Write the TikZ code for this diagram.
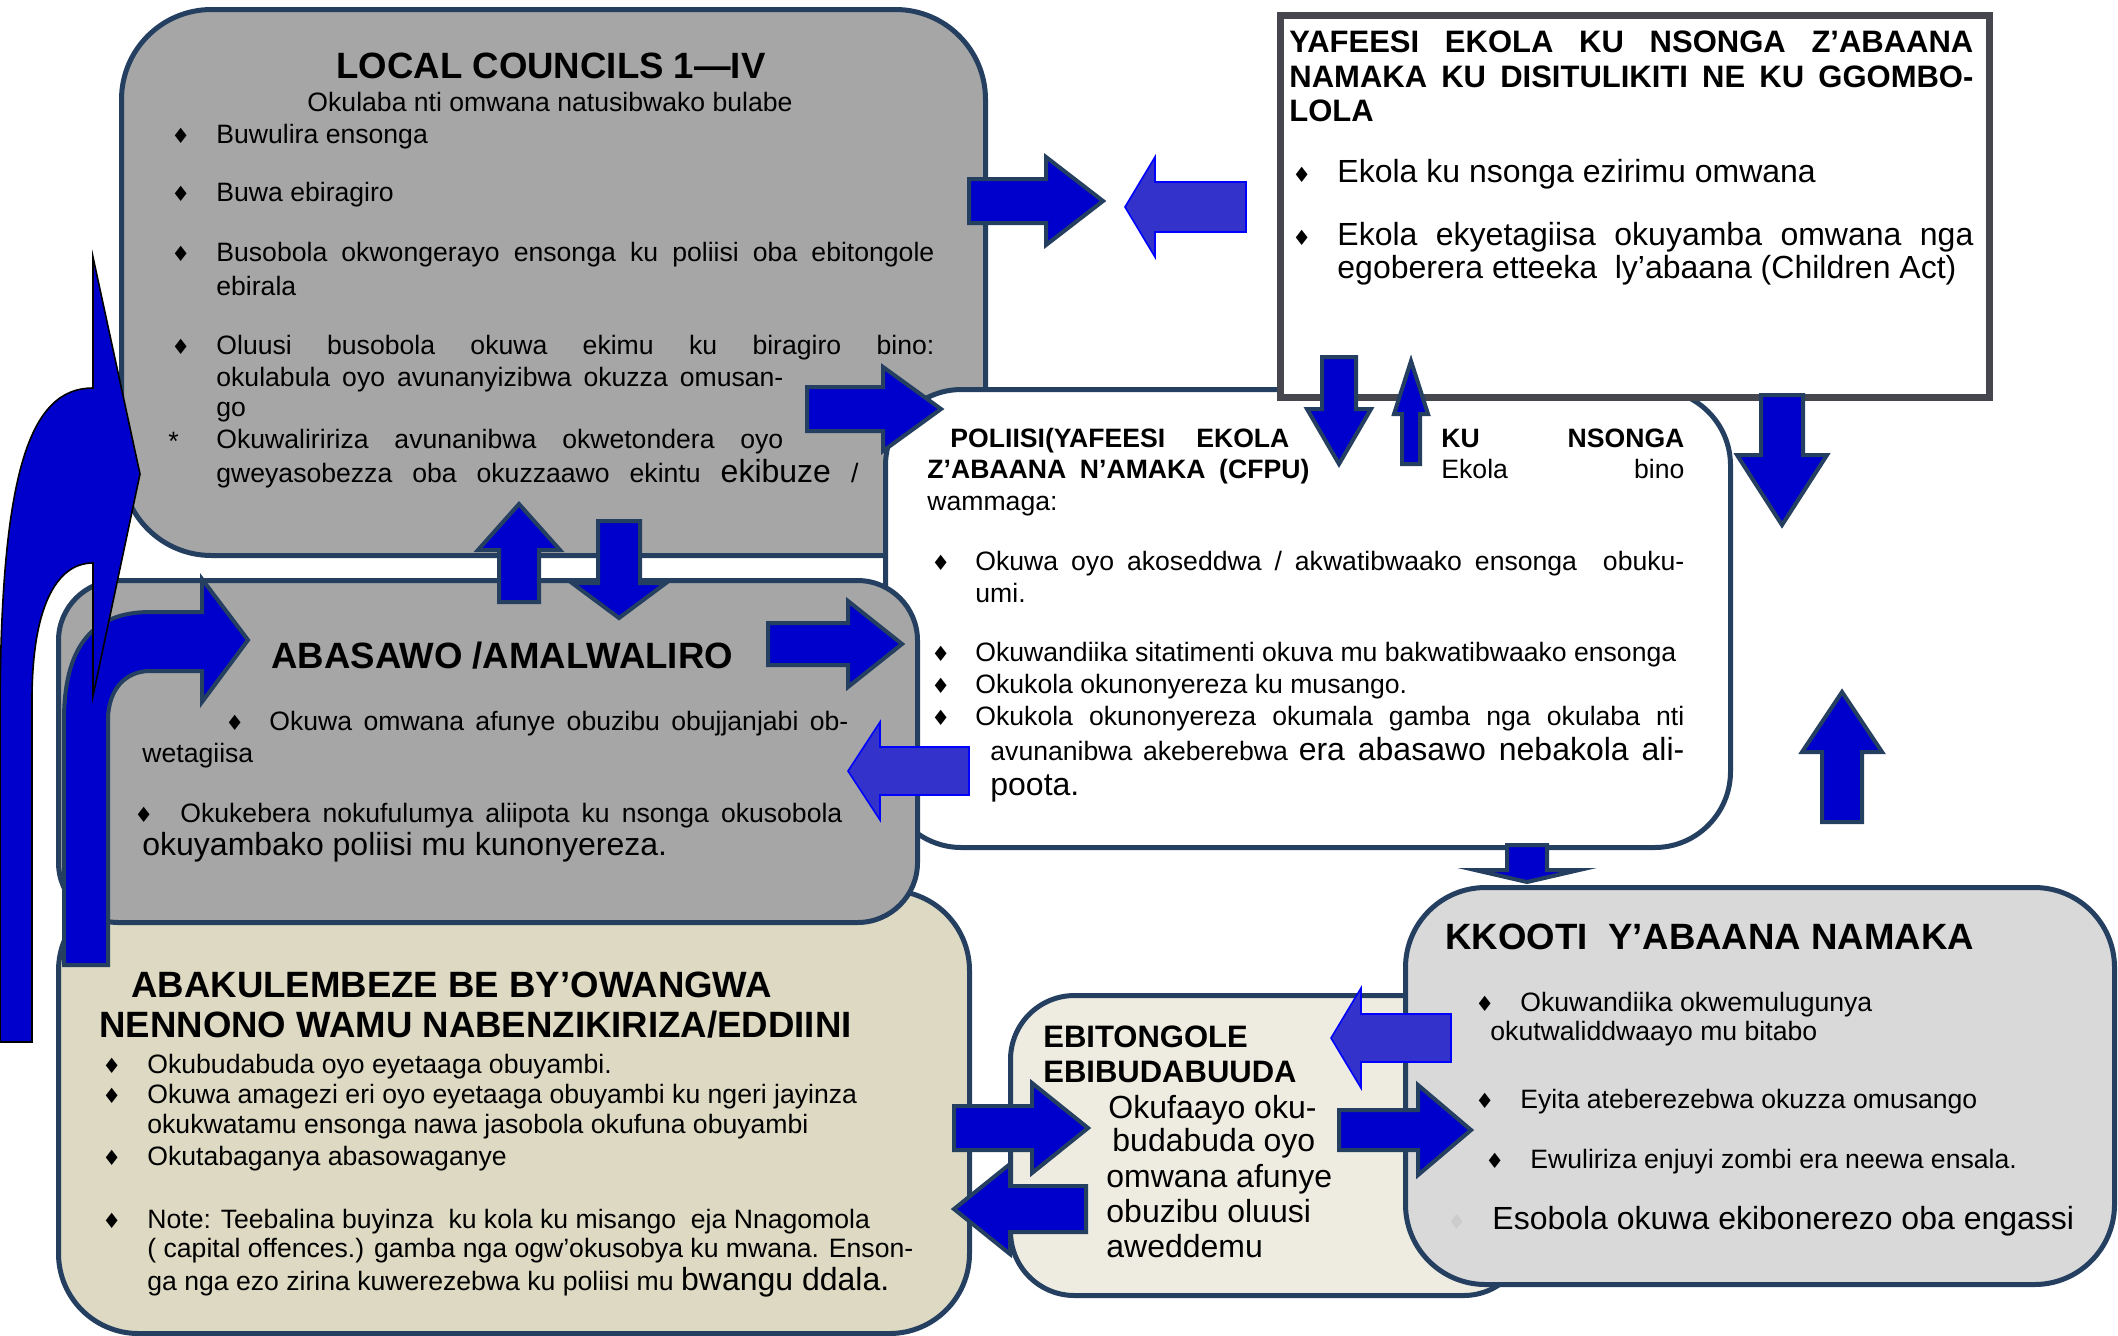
\documentclass[tikz,border=0pt]{standalone}
\usepackage{fontspec}
\setmainfont{Liberation Sans}
\newfontfamily\dvsym{DejaVu Sans}
\definecolor{bord}{HTML}{243F60}
\definecolor{lcgray}{HTML}{A6A6A6}
\definecolor{yafgray}{HTML}{46464F}
\definecolor{beige}{HTML}{DDD9C3}
\definecolor{ebfill}{HTML}{EEECE1}
\definecolor{kkgray}{HTML}{D9D9D9}
\definecolor{arrblue}{HTML}{0000CC}
\definecolor{arrlight}{HTML}{3333CC}
\newcommand\fsB{\fontsize{13.3}{16}\selectfont}
\newcommand\fsL{\fontsize{16}{19}\selectfont}
\newcommand\fsT{\fontsize{18.3}{22}\selectfont\bfseries}
\newcommand\fsH{\fontsize{15.5}{18}\selectfont\bfseries}
\newcommand\fsY{\fontsize{16}{19}\selectfont}
\newcommand\jb[2]{\makebox[#1pt][s]{#2}}
\newcommand\harr[6]{(#1,#4-#5) -- (#2,#4-#5) -- (#2,#4-#6) -- (#3,#4) -- (#2,#4+#6) -- (#2,#4+#5) -- (#1,#4+#5) -- cycle}
\newcommand\varr[6]{(#4-#5,#1) -- (#4-#5,#2) -- (#4-#6,#2) -- (#4,#3) -- (#4+#6,#2) -- (#4+#5,#2) -- (#4+#5,#1) -- cycle}
\begin{document}
\begin{tikzpicture}[x=0.5pt,y=-0.5pt,
  box/.style={draw=bord, line width=2.5pt, anchor=north west, inner sep=0pt},
  txt/.style={anchor=base west, inner sep=0pt, font=\fsB},
  bul/.style={anchor=base west, inner sep=0pt, xshift=-3pt, font=\dvsym\fontsize{10.5}{10.5}\selectfont},
  arrD/.style={fill=arrblue, draw=bord, line width=2pt, line join=miter},
  arrL/.style={fill=arrlight, draw=blue, line width=0.8pt, line join=miter}]
\useasboundingbox (0,0) rectangle (2118,1335);

% ---------------- boxes ----------------
\node[box, fill=lcgray, rounded corners=45pt, minimum width=432pt, minimum height=273pt] (lc) at (119,7) {};
\node[box, fill=white, rounded corners=38pt, minimum width=422.5pt, minimum height=229pt] (pol) at (883,387) {};
\node[box, fill=white, draw=yafgray, line width=3.5pt, minimum width=354.5pt, minimum height=191pt] (yaf) at (1277,12) {};
\node[box, fill=beige, rounded corners=40pt, minimum width=455.5pt, minimum height=221.5pt] (abk) at (56,888) {};
\node[box, fill=lcgray, rounded corners=30pt, minimum width=429.5pt, minimum height=171pt] (abs) at (56,578) {};
\node[box, fill=ebfill, rounded corners=32pt, minimum width=258.5pt, minimum height=150pt] (ebi) at (1008,993) {};
\node[box, fill=kkgray, rounded corners=40pt, minimum width=354.5pt, minimum height=198.5pt] (kko) at (1403,885) {};

% ---------------- LOCAL COUNCILS text ----------------
\node[txt, anchor=base, font=\fsT] (lct) at (551,78) {LOCAL COUNCILS 1—IV};
\node[txt, anchor=base] (lcs) at (550,111) {Okulaba nti omwana natusibwako bulabe};
\node[bul] (lcb1) at (177,143) {♦};
\node[txt] (lc1) at (216,143) {Buwulira ensonga};
\node[bul] (lcb2) at (177,201) {♦};
\node[txt] (lc2) at (216,201) {Buwa ebiragiro};
\node[bul] (lcb3) at (177,261) {♦};
\node[txt] (lc3) at (216,261) {\jb{359}{Busobola okwongerayo ensonga ku poliisi oba ebitongole}};
\node[txt] (lc4) at (216,295) {ebirala};
\node[bul] (lcb4) at (177,354) {♦};
\node[txt] (lc5) at (216,354) {\jb{359}{Oluusi busobola okuwa ekimu ku biragiro bino:}};
\node[txt] (lc6) at (216,386) {\jb{283.5}{okulabula oyo avunanyizibwa okuzza omusan-}};
\node[txt] (lc7) at (216,416) {go};
\node[txt] (lcast) at (168,450) {*};
\node[txt] (lc8) at (216,448) {\jb{283.5}{Okuwaliririza avunanibwa okwetondera oyo}};
\node[txt] (lc9) at (216,482) {\jb{321}{gweyasobezza oba okuzzaawo ekintu {\fsL ekibuze} /}};

% ---------------- YAFEESI text ----------------
\node[txt, font=\fsH] (yt1) at (1289,52) {\jb{342}{YAFEESI EKOLA KU NSONGA Z’ABAANA}};
\node[txt, font=\fsH] (yt2) at (1289,87) {\jb{342}{NAMAKA KU DISITULIKITI NE KU GGOMBO-}};
\node[txt, font=\fsH] (yt3) at (1289,121) {LOLA};
\node[bul] (yb1) at (1298,182) {♦};
\node[txt, font=\fsY] (y1) at (1337,182) {Ekola ku nsonga ezirimu omwana};
\node[bul] (yb2) at (1298,245) {♦};
\node[txt, font=\fsY] (y2) at (1337,245) {\jb{318}{Ekola ekyetagiisa okuyamba omwana nga}};
\node[txt, font=\fsY] (y3) at (1337,278) {egoberera etteeka \ ly’abaana (Children Act)};

% ---------------- POLIISI text ----------------
\node[txt, font=\fsB\bfseries] (pt1) at (950,447) {\jb{169.5}{POLIISI(YAFEESI EKOLA}};
\node[txt, font=\fsB\bfseries] (pt2) at (1441,447) {\jb{121.5}{KU NSONGA}};
\node[txt, font=\fsB\bfseries] (pt3) at (927,478) {\jb{191}{Z’ABAANA N’AMAKA (CFPU)}};
\node[txt] (pt4) at (1441,478) {\jb{121.5}{Ekola bino}};
\node[txt] (pt5) at (927,510) {wammaga:};
\node[bul] (pb1) at (937,570) {♦};
\node[txt] (p1) at (975,570) {\jb{354.5}{Okuwa oyo akoseddwa / akwatibwaako ensonga \ obuku-}};
\node[txt] (p2) at (975,602) {umi.};
\node[bul] (pb2) at (937,661) {♦};
\node[txt] (p3) at (975,661) {Okuwandiika sitatimenti okuva mu bakwatibwaako ensonga};
\node[bul] (pb3) at (937,693) {♦};
\node[txt] (p4) at (975,693) {Okukola okunonyereza ku musango.};
\node[bul] (pb4) at (937,725) {♦};
\node[txt] (p5) at (975,725) {\jb{354.5}{Okukola okunonyereza okumala gamba nga okulaba nti}};
\node[txt] (p6) at (990,760) {\jb{347}{avunanibwa akeberebwa {\fsL era abasawo nebakola ali-}}};
\node[txt, font=\fsL] (p7) at (990,795) {poota.};

% ---------------- ABASAWO text ----------------
\node[txt, font=\fsT] (at) at (271,668) {ABASAWO /AMALWALIRO};
\node[bul] (ab1) at (231,730) {♦};
\node[txt] (a1) at (269,730) {\jb{289.5}{Okuwa omwana afunye obuzibu obujjanjabi ob-}};
\node[txt] (a2) at (142,762) {wetagiisa};
\node[bul] (ab2) at (140,822) {♦};
\node[txt] (a3) at (180,822) {\jb{331}{Okukebera nokufulumya aliipota ku nsonga okusobola}};
\node[txt, font=\fsL] (a4) at (142,855) {okuyambako poliisi mu kunonyereza.};

% ---------------- ABAKULEMBEZE text ----------------
\node[txt, font=\fsT] (kt1) at (131,997) {ABAKULEMBEZE BE BY’OWANGWA};
\node[txt, font=\fsT] (kt2) at (99,1037) {NENNONO WAMU NABENZIKIRIZA/EDDIINI};
\node[bul] (kb1) at (108,1073) {♦};
\node[txt] (k1) at (147,1073) {Okubudabuda oyo eyetaaga obuyambi.};
\node[bul] (kb2) at (108,1103) {♦};
\node[txt] (k2) at (147,1103) {Okuwa amagezi eri oyo eyetaaga obuyambi ku ngeri jayinza};
\node[txt] (k3) at (147,1133) {okukwatamu ensonga nawa jasobola okufuna obuyambi};
\node[bul] (kb3) at (108,1165) {♦};
\node[txt] (k4) at (147,1165) {Okutabaganya abasowaganye};
\node[bul] (kb4) at (108,1228) {♦};
\node[txt] (k5) at (147,1228) {Note: Teebalina buyinza \ ku kola ku misango \ eja Nnagomola};
\node[txt] (k6) at (147,1257) {( capital offences.) gamba nga ogw’okusobya ku mwana. Enson-};
\node[txt] (k7) at (147,1290) {ga nga ezo zirina kuwerezebwa ku poliisi mu {\fsL bwangu ddala.}};

% ---------------- EBITONGOLE text ----------------
\node[txt, font=\fsH] (et1) at (1043,1047) {EBITONGOLE};
\node[txt, font=\fsH] (et2) at (1043,1082) {EBIBUDABUUDA};
\node[txt, font=\fsL] (e1) at (1108,1118) {Okufaayo oku-};
\node[txt, font=\fsL] (e2) at (1112,1151) {budabuda oyo};
\node[txt, font=\fsL] (e3) at (1106,1187) {omwana afunye};
\node[txt, font=\fsL] (e4) at (1106,1222) {obuzibu oluusi};
\node[txt, font=\fsL] (e5) at (1106,1257) {aweddemu};

% ---------------- KKOOTI text ----------------
\node[txt, font=\fsT] (ot) at (1445,949) {KKOOTI \ Y’ABAANA NAMAKA};
\node[bul] (ob1) at (1481,1011) {♦};
\node[txt] (o1) at (1520,1011) {Okuwandiika okwemulugunya};
\node[txt] (o2) at (1490,1040) {okutwaliddwaayo mu bitabo};
\node[bul] (ob2) at (1481,1108) {♦};
\node[txt] (o3) at (1520,1108) {Eyita ateberezebwa okuzza omusango};
\node[bul] (ob3) at (1491,1168) {♦};
\node[txt] (o4) at (1530,1168) {Ewuliriza enjuyi zombi era neewa ensala.};
\node[bul, text=black!20] (ob4) at (1453,1229) {♦};
\node[txt, font=\fsL] (o5) at (1492,1229) {Esobola okuwa ekibonerezo oba engassi};

% ---------------- block arrows ----------------
\draw[arrD] \harr{969}{1046}{1103}{201}{22}{44};
\draw[arrL] \harr{1246}{1155}{1125}{207}{25}{50};
\draw[arrD] \harr{807}{883}{941}{409}{22}{42};
\draw[arrD] \varr{357}{409}{464}{1339}{17}{32};
\draw[arrD] \varr{464}{414}{361}{1411}{9}{17};
\draw[arrD] \varr{395}{455}{525}{1782}{21}{45};
\draw[arrD] \varr{822}{752}{692}{1842}{20}{40};
\draw[arrD] \varr{845}{870}{882}{1527}{20}{52};
\draw[arrD] \varr{602}{550}{504}{519}{20}{41};
\draw[arrD] \varr{521}{583}{618}{619}{21}{47};
\draw[arrD] \harr{768}{848}{902}{644}{21}{43};
\draw[arrL] \harr{969}{880}{848}{771}{24}{49};
\draw[arrD] \harr{954}{1032}{1088}{1128}{22}{45};
\draw[arrD] \harr{1086}{1010}{954}{1209}{23}{45};
\draw[arrD] \harr{1339}{1418}{1471}{1130}{20}{45};
\draw[arrL] \harr{1451}{1361}{1331}{1038}{24}{50};

% curved arrow inside ABASAWO
\draw[arrD] (64,965) -- (64,720) .. controls (64,650) and (90,612) .. (150,612) -- (202,612) -- (202,579) -- (248,640) -- (202,702) -- (202,671) -- (150,671) .. controls (125,671) and (108,690) .. (108,720) -- (108,965) -- cycle;

% big curved arrow on the left
\draw[fill=arrblue, draw=black, line width=0.8pt, line join=miter] (0,1042) -- (0,720) .. controls (0,470) and (30,388) .. (93,388) -- (93,257) -- (140,474) -- (93,696) -- (93,563) .. controls (55,563) and (32,610) .. (32,700) -- (32,1042) -- cycle;
\end{tikzpicture}
\end{document}
